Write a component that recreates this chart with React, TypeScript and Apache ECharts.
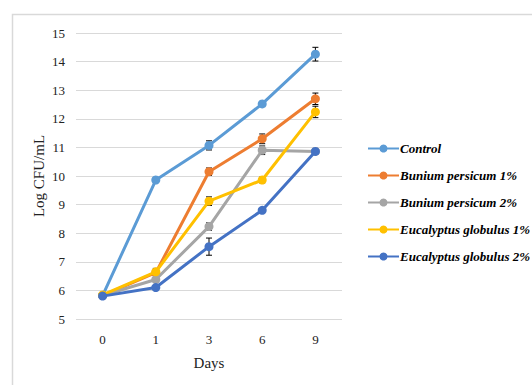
import React, { useEffect, useRef } from "react";
import * as echarts from "echarts";

const days = ["0", "1", "3", "6", "9"];
const seriesNames = [
  "Control",
  "Bunium persicum 1%",
  "Bunium persicum 2%",
  "Eucalyptus globulus 1%",
  "Eucalyptus globulus 2%",
];
const control = [5.82, 9.86, 11.07, 12.52, 14.26];
const bunium1 = [5.82, 6.62, 10.15, 11.3, 12.7];
const bunium2 = [5.82, 6.38, 8.23, 10.9, 10.86];
const euca1 = [5.84, 6.65, 9.12, 9.86, 12.24];
const euca2 = [5.8, 6.1, 7.53, 8.8, 10.86];
const controlErr = [0.04, 0.08, 0.16, 0.07, 0.24];
const bunium1Err = [0.04, 0.1, 0.13, 0.17, 0.2];
const bunium2Err = [0.04, 0.08, 0.13, 0.15, 0.06];
const euca1Err = [0.04, 0.12, 0.15, 0.1, 0.2];
const euca2Err = [0.04, 0.06, 0.3, 0.06, 0.07];
const colors = ["#5B9BD5", "#ED7D31", "#A5A5A5", "#FFC000", "#4472C4"];

const allValues = [control, bunium1, bunium2, euca1, euca2];
const allErrs = [controlErr, bunium1Err, bunium2Err, euca1Err, euca2Err];

export default function App() {
  const ref = useRef<HTMLDivElement>(null);
  useEffect(() => {
    document.body.style.margin = "0";
    const chart = echarts.init(ref.current!, null, { renderer: "svg" });
    const serif = "Liberation Serif";
    const lineSeries: any[] = allValues.map((vals, i) => ({
      name: seriesNames[i],
      type: "line",
      data: vals,
      symbol: "circle",
      symbolSize: 9,
      z: 3 + i,
      lineStyle: { width: 3, color: colors[i] },
      itemStyle: { color: colors[i] },
    }));
    const errSeries: any[] = allValues.map((vals, i) => ({
      type: "custom",
      z: 2,
      silent: true,
      data: vals.map((v, j) => [j, v, allErrs[i][j]]),
      renderItem: (params: any, api: any) => {
        const x = api.value(0);
        const v = api.value(1);
        const e = api.value(2);
        const lo = api.coord([x, v - e]);
        const hi = api.coord([x, v + e]);
        const cw = 3;
        const style = { stroke: "#000", lineWidth: 1 };
        return {
          type: "group",
          children: [
            { type: "line", shape: { x1: lo[0], y1: lo[1], x2: hi[0], y2: hi[1] }, style },
            { type: "line", shape: { x1: lo[0] - cw, y1: lo[1], x2: lo[0] + cw, y2: lo[1] }, style },
            { type: "line", shape: { x1: hi[0] - cw, y1: hi[1], x2: hi[0] + cw, y2: hi[1] }, style },
          ],
        };
      },
    }));
    chart.setOption({
      animation: false,
      color: colors,
      graphic: [
        {
          type: "rect",
          shape: { x: 12.5, y: 14.5, width: 600, height: 500 },
          style: { fill: "none", stroke: "#d9d9d9", lineWidth: 1.5 },
          silent: true,
        },
      ],
      grid: { left: 76, right: 190, top: 33, bottom: 66 },
      legend: {
        orient: "vertical",
        left: 362,
        top: 137,
        itemWidth: 31,
        itemHeight: 10,
        itemGap: 14,
        data: seriesNames,
        textStyle: {
          fontFamily: serif,
          fontStyle: "italic",
          fontWeight: "bold",
          fontSize: 13,
          color: "#000",
          padding: [0, 0, 0, -4],
        },
      },
      xAxis: {
        type: "category",
        data: days,
        boundaryGap: true,
        axisLine: { show: false },
        axisTick: { show: false },
        axisLabel: { fontFamily: serif, fontSize: 13, color: "#222", margin: 14 },
        name: "Days",
        nameLocation: "middle",
        nameGap: 36,
        nameTextStyle: { fontFamily: serif, fontSize: 15, color: "#222" },
      },
      yAxis: {
        type: "value",
        min: 5,
        max: 15,
        interval: 1,
        axisLine: { show: false },
        axisTick: { show: false },
        axisLabel: { fontFamily: serif, fontSize: 13, color: "#222", margin: 11 },
        splitLine: { lineStyle: { color: "#d9d9d9", width: 1 } },
        name: "Log CFU/mL",
        nameLocation: "middle",
        nameGap: 30,
        nameTextStyle: { fontFamily: serif, fontSize: 15, color: "#222" },
      },
      series: [...lineSeries, ...errSeries],
    });
    return () => chart.dispose();
  }, []);
  return <div ref={ref} style={{ width: 532, height: 385 }} />;
}
